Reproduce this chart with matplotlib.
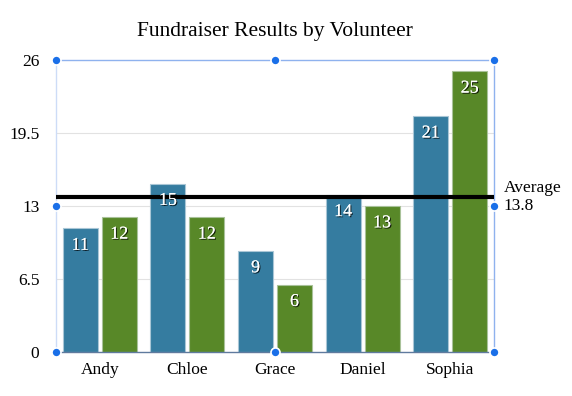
import matplotlib.pyplot as plt
import matplotlib.patheffects as pe
import numpy as np

# Datos
volunteers = ["Andy", "Chloe", "Grace", "Daniel", "Sophia"]
series_a = [11, 15, 9, 14, 21]
series_b = [12, 12, 6, 13, 25]
average = 13.8
yticks = [0, 6.5, 13, 19.5, 26]

blue = "#357ca0"
green = "#588828"
handle = "#1a6fe8"

plt.rcParams['font.family'] = ['Liberation Serif', 'DejaVu Serif']

fig = plt.figure(figsize=(5.72, 3.96), dpi=100)
ax = fig.add_axes([56/572, 44/396, 438/572, 292/396])

x = np.arange(len(volunteers))
w = 0.4
off = 0.222
bars_a = ax.bar(x - off, series_a, w, color=blue, edgecolor="#a9c6d6", linewidth=0.8, zorder=2)
bars_b = ax.bar(x + off, series_b, w, color=green, edgecolor="#a9c29a", linewidth=0.8, zorder=2)

# Etiquetas dentro de las barras
shadow = [pe.withSimplePatchShadow(offset=(0.8, -0.8), shadow_rgbFace="black", alpha=0.8), pe.Normal()]
for bars, vals in [(bars_a, series_a), (bars_b, series_b)]:
    for b, v in zip(bars, vals):
        ax.annotate(str(v), xy=(b.get_x() + b.get_width()/2, v), xytext=(0, -6),
                    textcoords="offset points", ha="center", va="top",
                    color="white", fontsize=13, path_effects=shadow, zorder=4)

# Línea de promedio
ax.axhline(average, color="black", linewidth=3, zorder=3)
ax.annotate(f"Average\n{average}", xy=(1, average), xycoords=("axes fraction", "data"),
            xytext=(7, 0), textcoords="offset points", ha="left", va="center",
            fontsize=12.5, linespacing=1.1, annotation_clip=False)

# Ejes
ax.set_xlim(-0.5, 4.5)
ax.set_ylim(0, 26)
ax.set_yticks(yticks)
ax.set_yticklabels(["0", "6.5", "13", "19.5", "26"])
ax.set_xticks(x)
ax.set_xticklabels(volunteers)
ax.tick_params(length=0, labelsize=12.5)
ax.tick_params(axis="y", pad=12)
ax.tick_params(axis="x", pad=7)
for y in yticks[1:-1]:
    ax.axhline(y, color="#e2e2e2", linewidth=0.8, zorder=1)

for s in ["top", "right"]:
    ax.spines[s].set_color("#8fb2ee")
ax.spines["left"].set_color("#cddcf7")
ax.spines["bottom"].set_color("#5f7a9e")
for s in ax.spines.values():
    s.set_linewidth(1)

# Puntos de selección
hx = [0, 0.5, 1, 0, 1, 0, 0.5, 1]
hy = [1, 1, 1, 0.5, 0.5, 0, 0, 0]
ax.plot(hx, hy, "o", transform=ax.transAxes, clip_on=False, color=handle,
        markersize=6.5, markeredgecolor="white", markeredgewidth=1.2, zorder=5)

ax.set_title("Fundraiser Results by Volunteer", fontsize=15.5, pad=17)

plt.savefig("out.png")
plt.close()
